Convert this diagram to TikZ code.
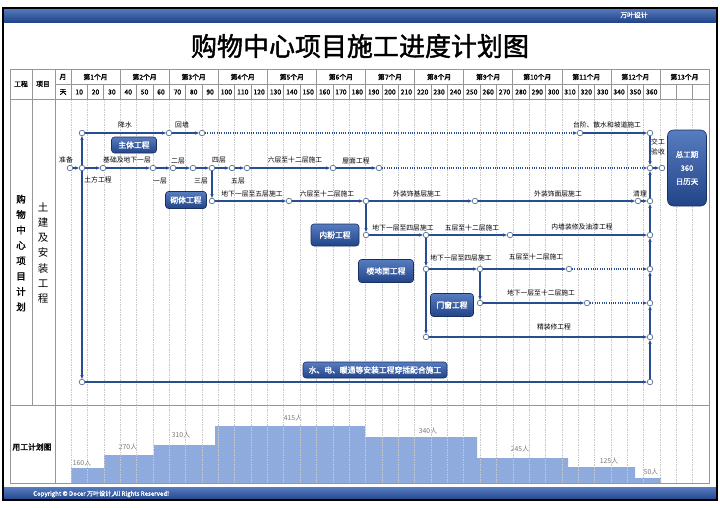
\documentclass[tikz,border=0pt]{standalone}
\usepackage{fontspec}
\setmainfont{Noto Sans CJK SC}[AutoFakeBold=1.6]
\usepackage{tikz}
\usetikzlibrary{arrows.meta}

\definecolor{netblue}{RGB}{40,78,146}
\definecolor{ringblue}{RGB}{70,95,140}
\definecolor{barhi}{RGB}{88,124,192}
\definecolor{barlo}{RGB}{34,68,136}
\definecolor{tabgray}{RGB}{150,150,150}
\definecolor{gridgray}{RGB}{200,200,200}
\definecolor{crowd}{RGB}{143,170,220}
\definecolor{crowdtxt}{RGB}{120,120,120}

\begin{document}
\begin{tikzpicture}[x=1pt, y=-1pt, >={Stealth[length=4pt,width=3.4pt]},
    ev/.style={circle, draw=ringblue, fill=white, line width=0.6pt, inner sep=0pt, minimum size=5.6pt},
    job/.style={->, netblue, line width=1.1pt},
    lazy/.style={->, netblue, line width=1.1pt, dash pattern=on 1pt off 1.3pt},
    lbl/.style={inner sep=0pt, font=\fontsize{6.8}{7}\selectfont},
    tag/.style={rounded corners=3pt, draw=barlo!70!black, line width=0.6pt, top color=barhi, bottom color=barlo, text=white, inner sep=0pt, font=\bfseries\fontsize{7.8}{9}\selectfont},
    head/.style={inner sep=0pt, font=\bfseries\fontsize{6.8}{7}\selectfont}]
    \useasboundingbox (0,0) rectangle (720,509);
    \fill[white] (0,0) rectangle (720,509);
    \shade[top color=barhi, bottom color=barlo] (3,8) rectangle (717,22);
    \shade[top color=barhi, bottom color=barlo] (3,487) rectangle (717,500);
    \node[inner sep=0pt, text=white, font=\bfseries\fontsize{6.8}{7}\selectfont] (brand) at (634,15) {万叶设计};
    \node[inner sep=0pt, text=white, anchor=west, font=\bfseries\fontsize{6.1}{6.5}\selectfont] (copy) at (33,494) {Copyright © Docer 万叶设计,All Rights Reserved!};
    \node[inner sep=0pt, font=\bfseries\fontsize{26}{27}\selectfont] (title) at (360,46) {购物中心项目施工进度计划图};

    \fill[crowd] (71,483) -- (71,468) -- (104,468) -- (104,455) -- (154,455) -- (154,445) -- (215,445) -- (215,426) -- (365,426) -- (365,437) -- (477,437) -- (477,458) -- (568,458) -- (568,467) -- (635,467) -- (635,478) -- (661,478) -- (661,483) -- cycle;
    \foreach \n/\x/\y/\t in {w1/82/463/160, w2/128/447/270, w3/181/435/310, w4/293/418/415, w5/428/431/340, w6/520/449/245, w7/609/461/125, w8/651/472/50}
        \node[inner sep=0pt, text=crowdtxt, font=\fontsize{6.8}{7}\selectfont] (\n) at (\x,\y) {\t 人};

    \foreach \k in {0,...,38}
        \draw[gridgray, dash pattern=on 1.5pt off 1pt, line width=0.4pt] ({71+16.36*\k},99) -- ({71+16.36*\k},483);
    \foreach \k in {1,...,38}
        \draw[tabgray, line width=0.5pt] ({71+16.36*\k},84.5) -- ({71+16.36*\k},99);
    \foreach \k in {3,6,...,36}
        \draw[tabgray, line width=0.5pt] ({71+16.36*\k},69) -- ({71+16.36*\k},84.5);
    \draw[tabgray, line width=0.5pt] (55,84.5) -- (709,84.5);
    \draw[tabgray, line width=0.5pt] (10,99) -- (709,99);
    \draw[tabgray, line width=0.5pt] (71,69) -- (71,99);
    \draw[tabgray, line width=0.6pt] (10,405) -- (709,405);
    \draw[tabgray, line width=0.6pt] (32,69) -- (32,405);
    \draw[tabgray, line width=0.6pt] (55,69) -- (55,483);
    \draw[tabgray, line width=0.8pt] (10,69) rectangle (709,483);

    \node[head] (hgc) at (21,84) {工程};
    \node[head] (hxm) at (43,84) {项目};
    \node[head] (hyue) at (63,77) {月};
    \node[head] (htian) at (63,92) {天};
    \foreach \k in {1,...,13}
        \node[head] (mo\k) at ({71+16.36*(3*\k-1.5)},77) {第\k 个月};
    \foreach \j [evaluate=\j as \d using int(10*\j)] in {1,...,36}
        \node[head] (dy\j) at ({71+16.36*(\j-0.5)},92) {\d};
    \node[inner sep=0pt, align=center, font=\bfseries\fontsize{9.5}{15.4}\selectfont] (plan) at (21,253) {购\\物\\中\\心\\项\\目\\计\\划};
    \node[inner sep=0pt, align=center, font=\fontsize{10.5}{15.3}\selectfont] (civil) at (43,253) {土\\建\\及\\安\\装\\工\\程};
    \node[inner sep=0pt, font=\bfseries\fontsize{7.8}{8}\selectfont] (crew) at (32,447) {用工计划图};

    \foreach \n/\x/\y in {a1/82/133, a2/169/133, a3/202/133, a4/580/133, a5/650/133,
        s0/70/168, s1/82/168, s2/103/168, s3/153/168, s4/173/168, s5/193/168, s6/212/168, s7/232/168, s8/247/168, s9/333/168, s10/379/168, s11/650/168, s12/662/168,
        m1/212/201, m2/289/201, m3/366/201, m4/475/201, m5/638/201, m6/650/201,
        n1/366/235, n2/426/235, n3/510/235, n4/650/235,
        f1/426/269, f2/480/269, f3/569/269, f4/650/269,
        d1/480/303, d2/587/303, d3/650/303,
        j1/426/337, j2/650/337, b1/82/382, b2/650/382}
        \node[ev] (\n) at (\x,\y) {};
    \foreach \p/\q in {s1/a1, a1/a2, a2/a3, a4/a5, s0/s1, s1/s2, s2/s3, s3/s4, s4/s5, s5/s6, s6/s7, s7/s8, s8/s9, s9/s10, s11/s12,
        s6/m1, m1/m2, m2/m3, m3/m4, m4/m5, m5/m6, m3/n1, n1/n2, n2/n3, n3/n4,
        n2/f1, f1/f2, f2/f3, f1/j1, f2/d1, d1/d2, j1/j2, s1/b1, b1/b2,
        a5/s11, m6/s11, n4/m6, f4/n4, d3/f4, j2/d3, b2/j2}
        \draw[job] (\p) -- (\q);
    \foreach \p/\q in {a3/a4, s10/s11, f3/f4, d2/d3}
        \draw[lazy] (\p) -- (\q);

    \foreach \n/\x/\y/\t in {t1/125/125/降水, t2/182/125/回墙, t3/607/125/台阶、散水和坡道施工,
        t4/66/160/准备, t5/98/180/土方工程, t6/127/160/基础及地下一层, t7/160/181/一层, t8/178/161/二层, t9/201/181/三层, t10/219/160/四层, t11/238/181/五层, t12/295/160/六层至十二层施工, t13/356/161/屋面工程,
        t14/252/194/地下一层至五层施工, t15/327/194/六层至十二层施工, t16/417/194/外装饰基层施工, t17/558/194/外装饰面层施工, t18/640/194/清理,
        t19/403/228/地下一层至四层施工, t20/472/228/五层至十二层施工, t21/582/227/内墙装修及油漆工程,
        t22/461/258/地下一层至四层施工, t23/536/257/五层至十二层施工, t24/541/293/地下一层至十二层施工, t25/554/327/精装修工程}
        \node[lbl] (\n) at (\x,\y) {\t};
    \node[lbl, align=left, font=\fontsize{6.8}{10}\selectfont] (t26) at (658,147) {交工\\验收};

    \node[tag, minimum width=45pt, minimum height=16pt] (zt) at (134,145) {主体工程};
    \node[tag, minimum width=41pt, minimum height=17pt] (qt) at (186,200) {砌体工程};
    \node[tag, minimum width=48pt, minimum height=22pt] (nf) at (335,235) {内粉工程};
    \node[tag, minimum width=55pt, minimum height=23pt] (ld) at (386,271) {楼地面工程};
    \node[tag, minimum width=43pt, minimum height=23pt] (mc) at (452,305) {门窗工程};
    \node[tag, minimum width=144pt, minimum height=16pt] (sd) at (375,370) {水、电、暖通等安装工程穿插配合施工};
    \node[tag, rounded corners=6pt, minimum width=39pt, minimum height=76pt, align=center, font=\bfseries\fontsize{7.5}{13.5}\selectfont] (zg) at (687,168) {总工期\\360\\日历天};

    \draw[black, line width=1.1pt] (3,8) rectangle (717,500);
\end{tikzpicture}
\end{document}
